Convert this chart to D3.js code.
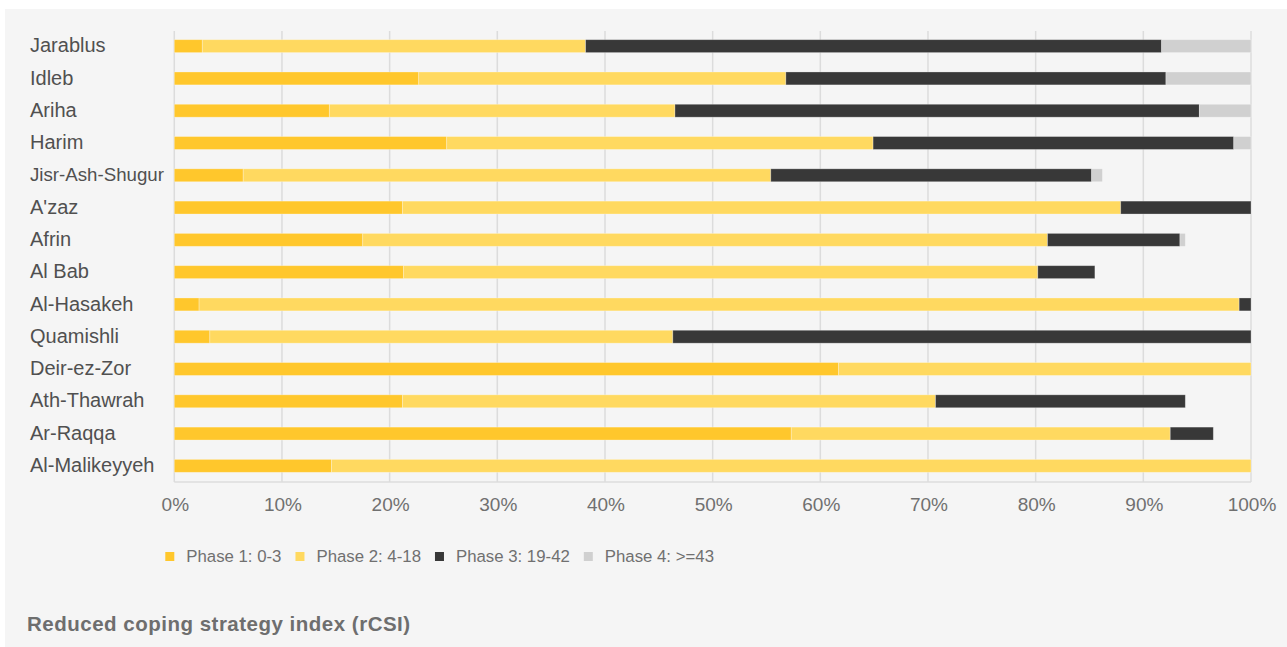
<!DOCTYPE html>
<html>
<head>
<meta charset="utf-8">
<script src="https://cdn.jsdelivr.net/npm/d3@7"></script>
<style>
  html, body { margin: 0; padding: 0; background: #ffffff; }
  svg { display: block; }
</style>
</head>
<body>
<svg id="chart" width="1287" height="647"></svg>
<script>
// ---- data (percent share of households per phase) ----
const categories = ["Jarablus","Idleb","Ariha","Harim","Jisr-Ash-Shugur","A'zaz","Afrin","Al Bab","Al-Hasakeh","Quamishli","Deir-ez-Zor","Ath-Thawrah","Ar-Raqqa","Al-Malikeyyeh"];
const seriesNames = ["Phase 1: 0-3","Phase 2: 4-18","Phase 3: 19-42","Phase 4: >=43"];
const phase1 = [2.6, 22.7, 14.4, 25.3, 6.4, 21.2, 17.5, 21.3, 2.3, 3.3, 61.7, 21.2, 57.3, 14.6];
const phase2 = [35.6, 34.1, 32.1, 39.6, 49.0, 66.7, 63.6, 58.9, 96.6, 43.0, 38.3, 49.5, 35.2, 85.4];
const phase3 = [53.5, 35.3, 48.7, 33.5, 29.8, 12.1, 12.3, 5.3, 1.1, 53.7, 0, 23.2, 4.0, 0];
const phase4 = [8.3, 7.9, 4.8, 1.6, 1.0, 0, 0.5, 0, 0, 0, 0, 0, 0, 0];
const tickValues = [0,10,20,30,40,50,60,70,80,90,100];
const colors = ["#FFC72C","#FFD960","#383838","#D0D0D0"];
const title = "Reduced coping strategy index (rCSI)";

const svg = d3.select("#chart");
const W = 1287, H = 647;

// panel
svg.append("rect").attr("x",5).attr("y",9).attr("width",W-5).attr("height",H-9).attr("fill","#f5f5f5");

const plot = {left:174.3, right:1251, top:30, bottom:482};
const x = d3.scaleLinear().domain([0,100]).range([plot.left, plot.right]);
const y = d3.scaleBand().domain(categories).range([plot.top, plot.bottom]).paddingInner(0.6).paddingOuter(0.3);

// gridlines
svg.append("g").selectAll("line").data(tickValues).join("line")
  .attr("x1",d=>x(d)).attr("x2",d=>x(d))
  .attr("y1",plot.top+1).attr("y2",plot.bottom)
  .attr("stroke","#dcdcdc").attr("stroke-width",1.5);
svg.append("line").attr("x1",plot.left).attr("x2",plot.right).attr("y1",plot.bottom).attr("y2",plot.bottom)
  .attr("stroke","#dcdcdc").attr("stroke-width",1.5);

// stacked data
const rows = categories.map((c,i)=>({cat:c, p0:phase1[i], p1:phase2[i], p2:phase3[i], p3:phase4[i]}));
const stack = d3.stack().keys(["p0","p1","p2","p3"]);
const layers = stack(rows);

svg.append("g").selectAll("g").data(layers).join("g")
  .attr("fill",(d,i)=>colors[i])
  .selectAll("rect").data(d=>d.filter(s=>s[1]-s[0]>0)).join("rect")
  .attr("x",d=>x(d[0]))
  .attr("y",d=>y(d.data.cat))
  .attr("width",d=>x(d[1])-x(d[0]))
  .attr("height",y.bandwidth())
  .attr("stroke","rgba(255,255,255,0.35)")
  .attr("stroke-width",0.8);

// category labels
const labels = svg.append("g").selectAll("text").data(categories).join("text")
  .attr("x",30)
  .attr("y",d=>y(d)+y.bandwidth()/2)
  .attr("dy","0.31em")
  .attr("font-family","'Liberation Sans', Arial, Helvetica, sans-serif")
  .attr("font-size",20)
  .attr("fill","#505050")
  .text(d=>d);
labels.each(function(){
  const len = this.getComputedTextLength();
  const maxW = 134;
  if (len > maxW) d3.select(this).attr("font-size", 20*maxW/len);
});

// x axis tick labels
const fmt = d=>d+"%";
svg.append("g").selectAll("text").data(tickValues).join("text")
  .attr("x",d=>x(d)+1)
  .attr("y",511)
  .attr("text-anchor","middle")
  .attr("font-family","'Liberation Sans', Arial, Helvetica, sans-serif")
  .attr("font-size",19)
  .attr("fill","#707070")
  .text(fmt);

// legend
const lg = svg.append("g");
let lx = 165.3;
seriesNames.forEach((name,i)=>{
  lg.append("rect").attr("x",lx).attr("y",552).attr("width",9).attr("height",9).attr("fill",colors[i]);
  const t = lg.append("text").attr("x",lx+21).attr("y",562)
    .attr("font-family","'Liberation Sans', Arial, Helvetica, sans-serif")
    .attr("font-size",16.8).attr("fill","#707070").text(name);
  lx = lx + 21 + t.node().getComputedTextLength() + 14;
});

// title
svg.append("text").attr("x",27).attr("y",631)
  .attr("font-family","'Liberation Sans', Arial, Helvetica, sans-serif")
  .attr("font-size",20.5).attr("font-weight","bold")
  .attr("letter-spacing",0.5)
  .attr("fill","#6e6e6e").text(title);
</script>
</body>
</html>
